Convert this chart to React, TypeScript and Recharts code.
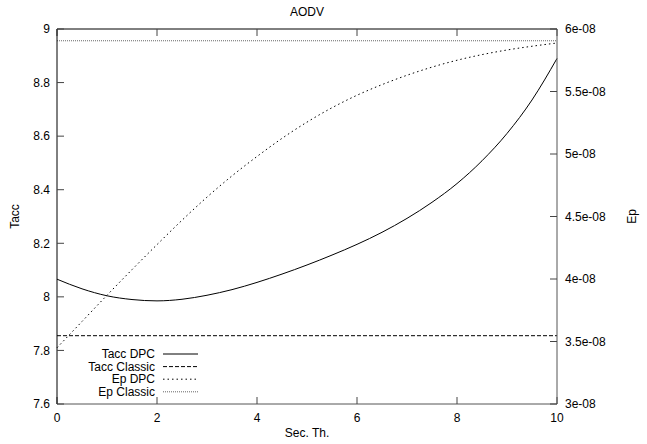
import { LineChart, Line, XAxis, YAxis, Legend } from "recharts";

const X = [0, 0.5, 1, 1.5, 2, 2.5, 3, 3.5, 4, 4.5, 5, 5.5, 6, 6.5, 7, 7.5, 8, 8.5, 9, 9.5, 10];
const TACC_DPC = [8.066, 8.03, 8.004, 7.99, 7.985, 7.991, 8.006, 8.027, 8.054, 8.085, 8.119, 8.156, 8.196, 8.241, 8.293, 8.353, 8.423, 8.508, 8.61, 8.735, 8.89];
const TACC_CLASSIC = [7.855, 7.855, 7.855, 7.855, 7.855, 7.855, 7.855, 7.855, 7.855, 7.855, 7.855, 7.855, 7.855, 7.855, 7.855, 7.855, 7.855, 7.855, 7.855, 7.855, 7.855];
const EP_DPC = [3.45e-8, 3.66e-8, 3.87e-8, 4.075e-8, 4.275e-8, 4.47e-8, 4.655e-8, 4.825e-8, 4.98e-8, 5.125e-8, 5.255e-8, 5.37e-8, 5.47e-8, 5.555e-8, 5.63e-8, 5.695e-8, 5.75e-8, 5.795e-8, 5.832e-8, 5.862e-8, 5.888e-8];
const EP_CLASSIC = [5.906e-8, 5.906e-8, 5.906e-8, 5.906e-8, 5.906e-8, 5.906e-8, 5.906e-8, 5.906e-8, 5.906e-8, 5.906e-8, 5.906e-8, 5.906e-8, 5.906e-8, 5.906e-8, 5.906e-8, 5.906e-8, 5.906e-8, 5.906e-8, 5.906e-8, 5.906e-8, 5.906e-8];

const X_TICKS = [0, 2, 4, 6, 8, 10];
const TACC_TICKS = [7.6, 7.8, 8, 8.2, 8.4, 8.6, 8.8, 9];
const EP_TICKS = [3e-8, 3.5e-8, 4e-8, 4.5e-8, 5e-8, 5.5e-8, 6e-8];

const SERIES = [
  { key: "taccDpc", name: "Tacc DPC", axis: "left", color: "#000", dash: undefined },
  { key: "taccClassic", name: "Tacc Classic", axis: "left", color: "#000", dash: "4 2" },
  { key: "epDpc", name: "Ep DPC", axis: "right", color: "#000", dash: "1.5 3" },
  { key: "epClassic", name: "Ep Classic", axis: "right", color: "#666", dash: "1 1" },
];

const data = X.map((x, i) => ({
  x,
  taccDpc: TACC_DPC[i],
  taccClassic: TACC_CLASSIC[i],
  epDpc: EP_DPC[i],
  epClassic: EP_CLASSIC[i],
}));

const FONT = "'Liberation Sans', Arial, Helvetica, sans-serif";
const tickStyle = { fontSize: 12, fill: "#000", fontFamily: FONT };

function fmtEp(v: number) {
  const m = Math.round(v * 1e9) / 10;
  return `${m}e-08`;
}

function GnuLegend() {
  return (
    <svg width={210} height={56} style={{ display: "block" }}>
      {SERIES.map((s, i) => {
        const y = 9 + i * 12.6;
        return (
          <g key={s.key}>
            <text x={155} y={y} textAnchor="end" dominantBaseline="central" fontSize={12} fontFamily={FONT} fill="#000">
              {s.name}
            </text>
            <line x1={163} x2={198} y1={y} y2={y} stroke={s.color} strokeWidth={1} strokeDasharray={s.dash} />
          </g>
        );
      })}
    </svg>
  );
}

export default function App() {
  return (
    <div style={{ position: "absolute", left: 0, top: 0, background: "#fff" }}>
      <LineChart width={647} height={444} data={data} margin={{ top: 0, right: 0, bottom: 0, left: 0 }} style={{ fontFamily: FONT }}>
        <XAxis
          xAxisId="top"
          orientation="top"
          type="number"
          dataKey="x"
          domain={[0, 10]}
          ticks={X_TICKS}
          height={29}
          tickSize={-7}
          tickFormatter={() => ""}
          axisLine={{ stroke: "#000" }}
          tickLine={{ stroke: "#444" }}
          label={{ value: "AODV", position: "center", dy: -3, fontSize: 12, fill: "#000", fontFamily: FONT }}
        />
        <XAxis
          xAxisId="bottom"
          orientation="bottom"
          type="number"
          dataKey="x"
          domain={[0, 10]}
          ticks={X_TICKS}
          height={40}
          tickSize={-7}
          tickMargin={16}
          tick={tickStyle}
          axisLine={{ stroke: "#555" }}
          tickLine={{ stroke: "#444" }}
          label={{ value: "Sec. Th.", position: "center", dy: 9, fontSize: 12, fill: "#000", fontFamily: FONT }}
        />
        <YAxis
          yAxisId="left"
          orientation="left"
          domain={[7.6, 9]}
          ticks={TACC_TICKS}
          width={57}
          tickSize={-7}
          tickMargin={14}
          tick={tickStyle}
          axisLine={{ stroke: "#000" }}
          tickLine={{ stroke: "#444" }}
          label={{ value: "Tacc", angle: -90, position: "center", dx: -14, fontSize: 12, fill: "#000", fontFamily: FONT }}
        />
        <YAxis
          yAxisId="right"
          orientation="right"
          domain={[3e-8, 6e-8]}
          ticks={EP_TICKS}
          width={90}
          tickSize={-7}
          tickMargin={15}
          tick={tickStyle}
          tickFormatter={fmtEp}
          axisLine={{ stroke: "#555" }}
          tickLine={{ stroke: "#444" }}
          label={{ value: "Ep", angle: -90, position: "center", dx: 30, fontSize: 12, fill: "#000", fontFamily: FONT }}
        />
        {SERIES.map((s) => (
          <Line
            key={s.key}
            xAxisId="bottom"
            yAxisId={s.axis}
            type="monotone"
            dataKey={s.key}
            name={s.name}
            stroke={s.color}
            strokeWidth={1}
            strokeDasharray={s.dash}
            dot={false}
            activeDot={false}
            isAnimationActive={false}
          />
        ))}
        <Legend
          layout="vertical"
          align="center"
          verticalAlign="middle"
          content={<GnuLegend />}
          wrapperStyle={{ position: "absolute", left: 0, top: 345, width: 210, height: 56 }}
        />
      </LineChart>
    </div>
  );
}
